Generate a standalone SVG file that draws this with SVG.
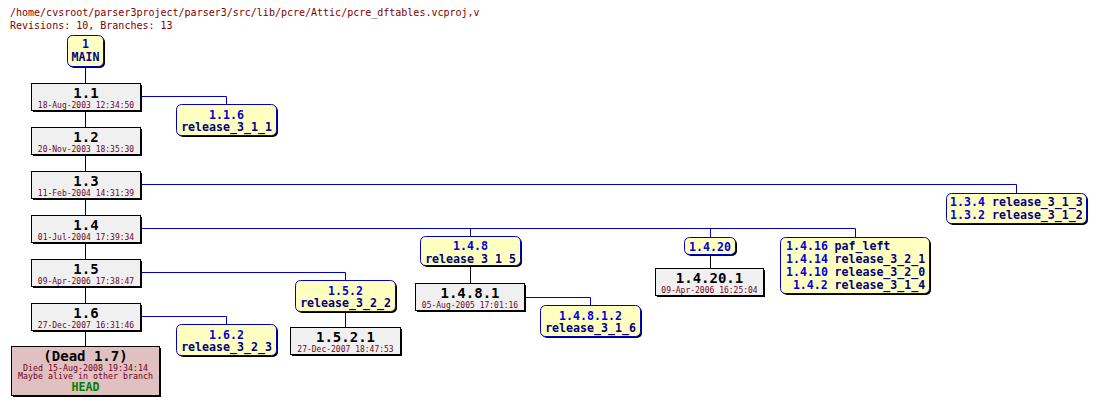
<svg xmlns="http://www.w3.org/2000/svg" width="1098" height="407" viewBox="0 0 1098 407">
<style>
text{font-family:"DejaVu Sans Mono","Liberation Mono",monospace}
.hdr{font-size:10px;fill:#800000}
.shadow{fill:#000}
.rev{fill:#f0f0f0;stroke:#000;stroke-width:1}
.dead{fill:#e0c0c0;stroke:#000;stroke-width:1}
.tag{fill:#ffffc0;stroke:#0000c0;stroke-width:1}
.num{font-size:14px;font-weight:bold;fill:#000;text-anchor:middle}
.date{font-size:8px;fill:#700020;text-anchor:middle}
.bn{font-size:11.6px;font-weight:bold;fill:#0000e0}
.tn{font-size:11.6px;font-weight:bold;fill:#000080}
.c{text-anchor:middle}
.trunk{stroke:#000;stroke-width:1;fill:none}
.br{stroke:#0000c8;stroke-width:1;fill:none}
</style>
<text class="hdr" x="10" y="16">/home/cvsroot/parser3project/parser3/src/lib/pcre/Attic/pcre_dftables.vcproj,v</text>
<text class="hdr" x="10" y="29">Revisions: 10, Branches: 13</text>
<g id="connectors">
<path class="trunk" d="M85.5 66V346"/>
<path class="br" d="M140 96.5H226.5V104"/>
<path class="br" d="M140 184.5H1016.5V193"/>
<path class="br" d="M140 228.5H855.5V237M470.5 228.5V236M710.5 228.5V237"/>
<path class="trunk" d="M470.5 266V283"/>
<path class="trunk" d="M710.5 254V268"/>
<path class="br" d="M525 297.5H590.5V305"/>
<path class="br" d="M140 272.5H345.5V280"/>
<path class="trunk" d="M345.5 311V327"/>
<path class="br" d="M140 316.5H226.5V324"/>
</g>
<g id="n_main">
<rect class="shadow" x="69" y="37" width="36" height="31" rx="5"/>
<rect class="tag" x="67.5" y="35.5" width="36" height="31" rx="5"/>
<text class="bn c" x="85.5" y="48">1</text>
<text class="tn c" x="85.5" y="61">MAIN</text>
</g>
<g id="n_1_1">
<rect class="shadow" x="33" y="85" width="109" height="27"/>
<rect class="rev" x="31.5" y="83.5" width="109" height="27"/>
<text class="num" x="86" y="98">1.1</text>
<text class="date" x="86" y="107.5">18-Aug-2003 12:34:50</text>
</g>
<g id="n_1_2">
<rect class="shadow" x="33" y="129" width="109" height="27"/>
<rect class="rev" x="31.5" y="127.5" width="109" height="27"/>
<text class="num" x="86" y="142">1.2</text>
<text class="date" x="86" y="151.5">20-Nov-2003 18:35:30</text>
</g>
<g id="n_1_3">
<rect class="shadow" x="33" y="173" width="109" height="27"/>
<rect class="rev" x="31.5" y="171.5" width="109" height="27"/>
<text class="num" x="86" y="186">1.3</text>
<text class="date" x="86" y="195.5">11-Feb-2004 14:31:39</text>
</g>
<g id="n_1_4">
<rect class="shadow" x="33" y="217" width="109" height="27"/>
<rect class="rev" x="31.5" y="215.5" width="109" height="27"/>
<text class="num" x="86" y="230">1.4</text>
<text class="date" x="86" y="239.5">01-Jul-2004 17:39:34</text>
</g>
<g id="n_1_5">
<rect class="shadow" x="33" y="261" width="109" height="27"/>
<rect class="rev" x="31.5" y="259.5" width="109" height="27"/>
<text class="num" x="86" y="274">1.5</text>
<text class="date" x="86" y="283.5">09-Apr-2006 17:38:47</text>
</g>
<g id="n_1_6">
<rect class="shadow" x="33" y="305" width="109" height="27"/>
<rect class="rev" x="31.5" y="303.5" width="109" height="27"/>
<text class="num" x="86" y="318">1.6</text>
<text class="date" x="86" y="327.5">27-Dec-2007 16:31:46</text>
</g>
<g id="n_dead">
<rect class="shadow" x="13" y="348" width="148" height="49"/>
<rect class="dead" x="11.5" y="346.5" width="148" height="49"/>
<text class="num" x="85.5" y="361">(Dead 1.7)</text>
<text class="date" x="85.5" y="370.5" style="font-size:8.3px">Died 15-Aug-2008 19:34:14</text>
<text class="date" x="85.5" y="379" style="font-size:8.3px">Maybe alive in other branch</text>
<text x="85.5" y="391" style="font-size:11.6px;font-weight:bold;fill:#008000;text-anchor:middle">HEAD</text>
</g>
<g id="n_1_1_6">
<rect class="shadow" x="178" y="106" width="100" height="31" rx="5"/>
<rect class="tag" x="176.5" y="104.5" width="100" height="31" rx="5"/>
<text class="bn c" x="226.5" y="118.5">1.1.6</text>
<text class="tn c" x="226.5" y="131">release_3_1_1</text>
</g>
<g id="n_1_3_x">
<rect class="shadow" x="948" y="195" width="140" height="30" rx="5"/>
<rect class="tag" x="946.5" y="193.5" width="140" height="30" rx="5"/>
<text x="950" y="206"><tspan class="bn">1.3.4</tspan><tspan class="tn" x="992">release_3_1_3</tspan></text>
<text x="950" y="218.5"><tspan class="bn">1.3.2</tspan><tspan class="tn" x="992">release_3_1_2</tspan></text>
</g>
<g id="n_1_4_8">
<rect class="shadow" x="422" y="238" width="100" height="29" rx="5"/>
<rect class="tag" x="420.5" y="236.5" width="100" height="29" rx="5"/>
<text class="bn c" x="470.5" y="250">1.4.8</text>
<text class="tn c" x="470.5" y="262.5">release_3_1_5</text>
</g>
<g id="n_1_4_8_1">
<rect class="shadow" x="417" y="285" width="109" height="27"/>
<rect class="rev" x="415.5" y="283.5" width="109" height="27"/>
<text class="num" x="470" y="298">1.4.8.1</text>
<text class="date" x="470" y="307.5">05-Aug-2005 17:01:16</text>
</g>
<g id="n_1_4_8_1_2">
<rect class="shadow" x="542" y="307" width="100" height="31" rx="5"/>
<rect class="tag" x="540.5" y="305.5" width="100" height="31" rx="5"/>
<text class="bn c" x="590.5" y="319.5">1.4.8.1.2</text>
<text class="tn c" x="590.5" y="332">release_3_1_6</text>
</g>
<g id="n_1_5_2">
<rect class="shadow" x="297" y="282" width="100" height="31" rx="5"/>
<rect class="tag" x="295.5" y="280.5" width="100" height="31" rx="5"/>
<text class="bn c" x="345.5" y="294.5">1.5.2</text>
<text class="tn c" x="345.5" y="307">release_3_2_2</text>
</g>
<g id="n_1_5_2_1">
<rect class="shadow" x="292" y="329" width="110" height="27"/>
<rect class="rev" x="290.5" y="327.5" width="110" height="27"/>
<text class="num" x="345.5" y="342">1.5.2.1</text>
<text class="date" x="345.5" y="351.5">27-Dec-2007 18:47:53</text>
</g>
<g id="n_1_6_2">
<rect class="shadow" x="178" y="326" width="100" height="31" rx="5"/>
<rect class="tag" x="176.5" y="324.5" width="100" height="31" rx="5"/>
<text class="bn c" x="226.5" y="338.5">1.6.2</text>
<text class="tn c" x="226.5" y="351">release_3_2_3</text>
</g>
<g id="n_1_4_20">
<rect class="shadow" x="686" y="239" width="51" height="17" rx="5"/>
<rect class="tag" x="684.5" y="237.5" width="51" height="17" rx="5"/>
<text class="bn c" x="710" y="250.5">1.4.20</text>
</g>
<g id="n_1_4_20_1">
<rect class="shadow" x="657" y="270" width="108" height="27"/>
<rect class="rev" x="655.5" y="268.5" width="108" height="27"/>
<text class="num" x="709.5" y="283">1.4.20.1</text>
<text class="date" x="709.5" y="292.5">09-Apr-2006 16:25:04</text>
</g>
<g id="n_1_4_16">
<rect class="shadow" x="782" y="239" width="149" height="56" rx="5"/>
<rect class="tag" x="780.5" y="237.5" width="149" height="56" rx="5"/>
<text x="786" y="250"><tspan class="bn">1.4.16</tspan><tspan class="tn" x="834.5">paf_left</tspan></text>
<text x="786" y="263"><tspan class="bn">1.4.14</tspan><tspan class="tn" x="834.5">release_3_2_1</tspan></text>
<text x="786" y="275.8"><tspan class="bn">1.4.10</tspan><tspan class="tn" x="834.5">release_3_2_0</tspan></text>
<text x="792.9" y="288.6"><tspan class="bn">1.4.2</tspan><tspan class="tn" x="834.5">release_3_1_4</tspan></text>
</g>
</svg>
